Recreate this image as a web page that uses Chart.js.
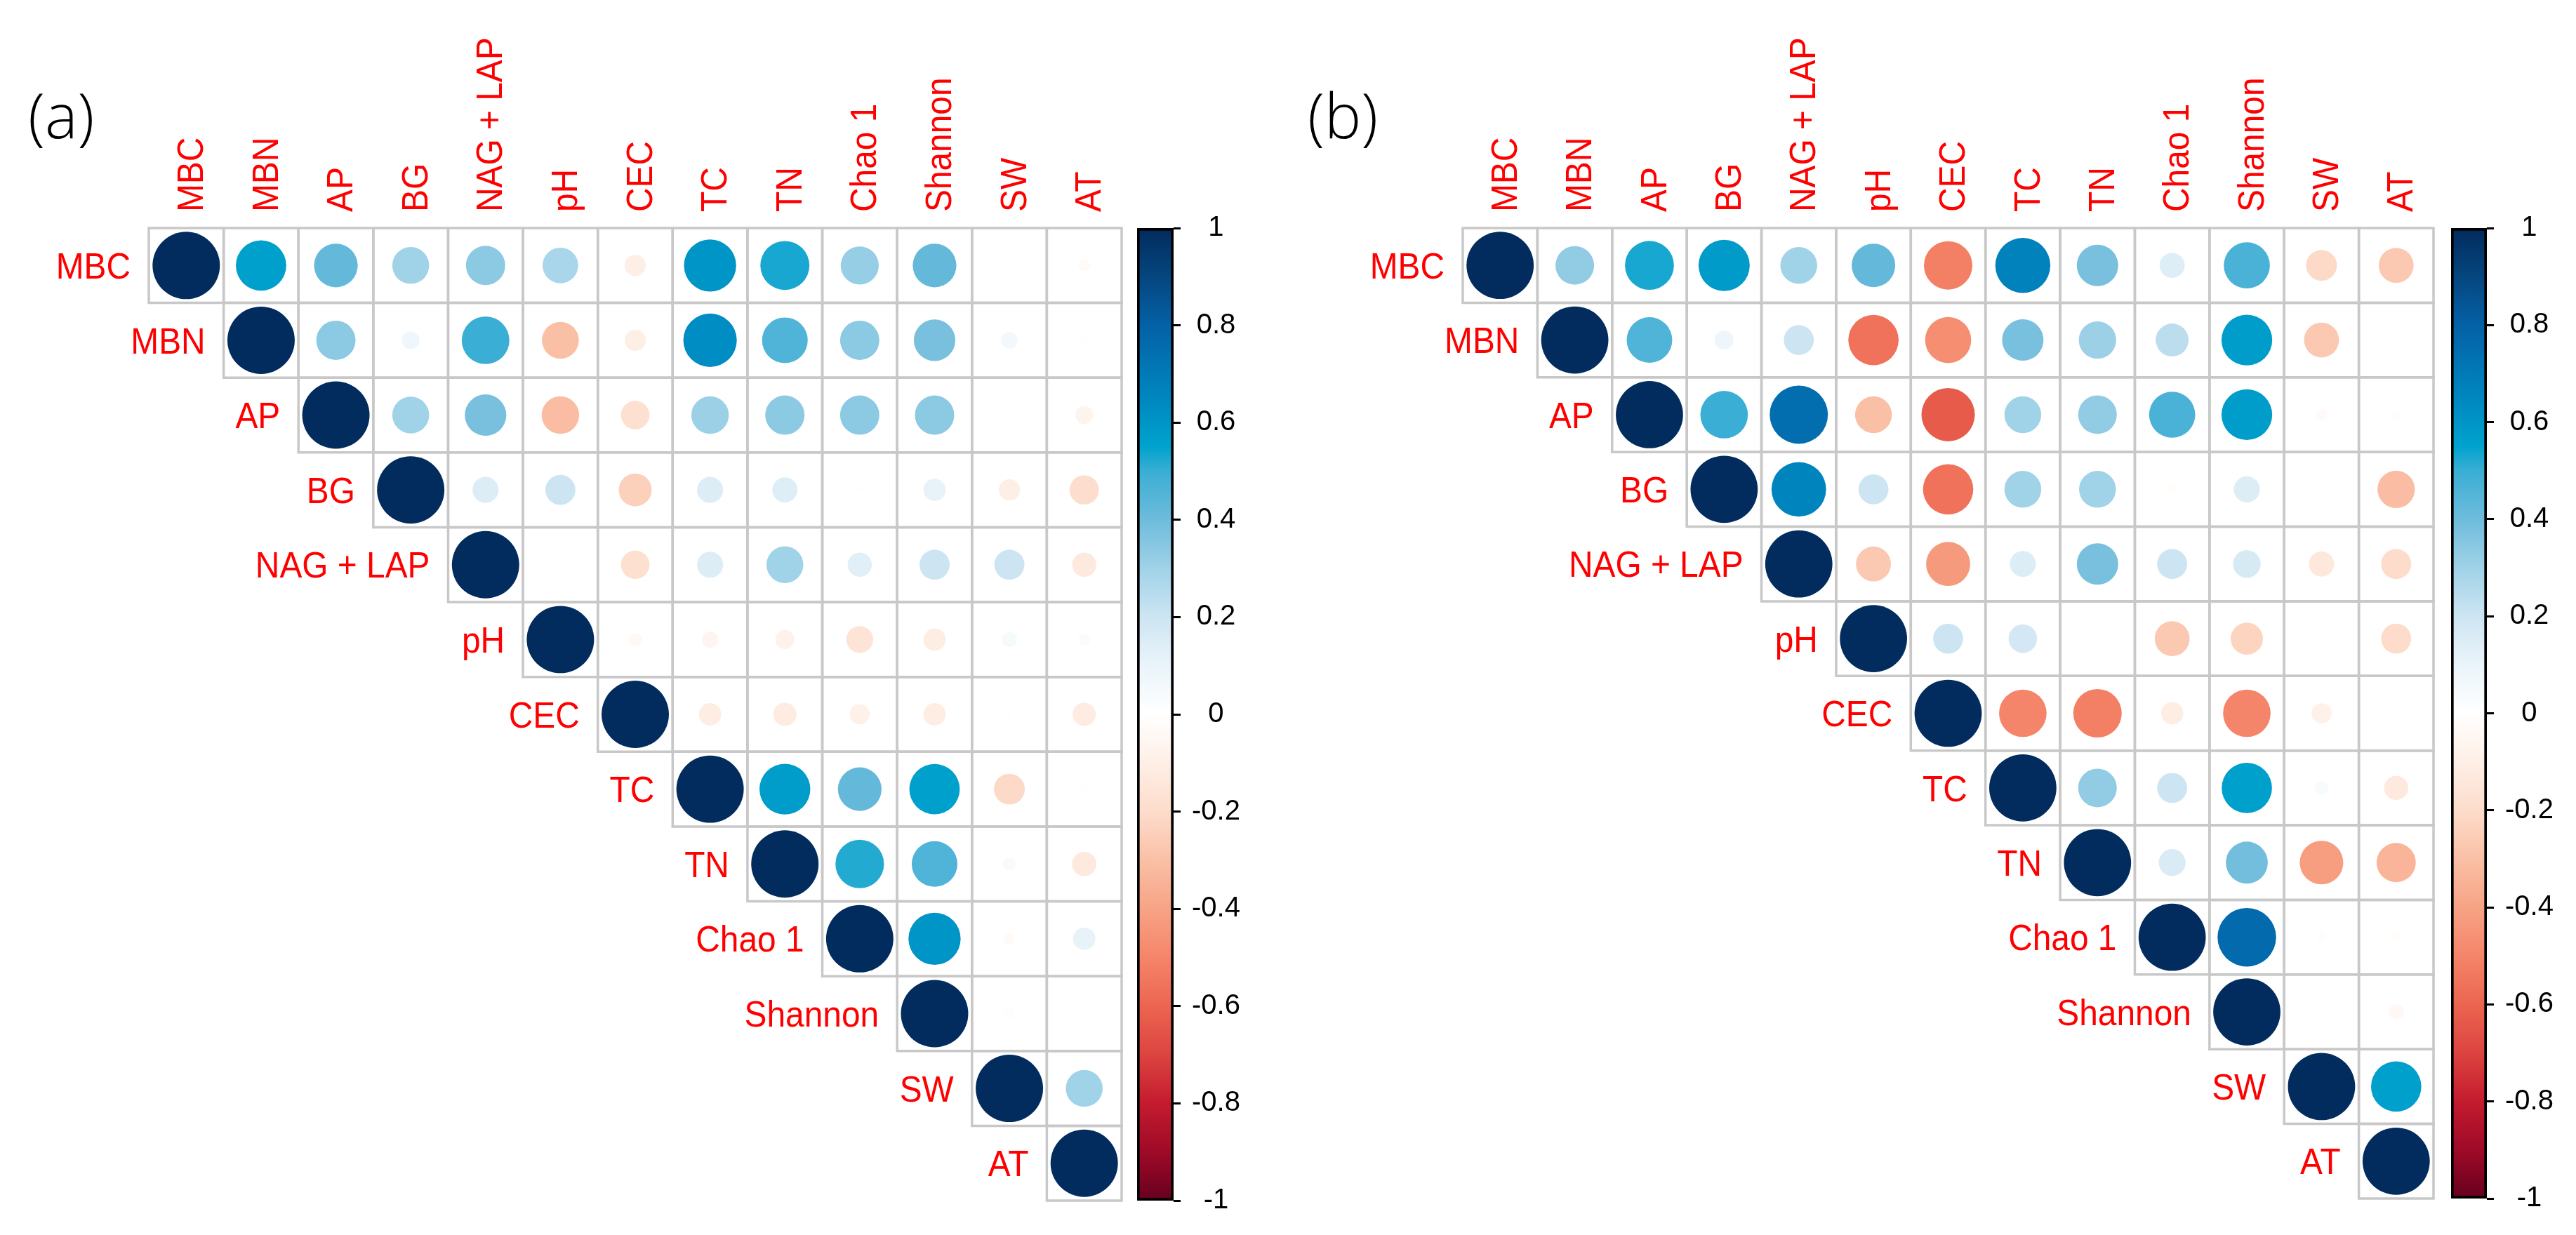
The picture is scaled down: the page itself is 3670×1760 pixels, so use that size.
<!DOCTYPE html>
<html>
<head>
<meta charset="utf-8">
<script src="https://cdn.jsdelivr.net/npm/chart.js@4.4.0/dist/chart.umd.min.js"></script>
<style>
html,body{margin:0;padding:0;background:#fff;width:3670px;height:1760px;overflow:hidden}
.box{position:absolute;top:0;height:1760px}
</style>
</head>
<body>
<div class="box" style="left:0;width:1610px"><canvas id="matA"></canvas></div>
<div class="box" style="left:1600px;width:250px"><canvas id="barA"></canvas></div>
<div class="box" style="left:1840px;width:1640px"><canvas id="matB"></canvas></div>
<div class="box" style="left:3472px;width:198px"><canvas id="barB"></canvas></div>
<script>
// ---------------- DATA ----------------
const variables = ['MBC','MBN','AP','BG','NAG + LAP','pH','CEC','TC','TN','Chao 1','Shannon','SW','AT'];

// upper triangle, each row starts at the diagonal
const corrA = [
  [1, 0.56, 0.42, 0.30, 0.34, 0.28, -0.10, 0.60, 0.53, 0.32, 0.42, -0.01, -0.03],
  [1, 0.34, 0.07, 0.50, -0.30, -0.10, 0.63, 0.46, 0.34, 0.38, 0.06, -0.01],
  [1, 0.30, 0.38, -0.31, -0.18, 0.31, 0.34, 0.34, 0.34, 0.01, -0.07],
  [1, 0.15, 0.20, -0.24, 0.15, 0.14, 0.01, 0.11, -0.10, -0.19],
  [1, 0.00, -0.18, 0.15, 0.30, 0.13, 0.20, 0.20, -0.13],
  [1, -0.04, -0.06, -0.08, -0.16, -0.11, 0.05, 0.03],
  [1, -0.11, -0.12, -0.09, -0.11, -0.01, -0.12],
  [1, 0.57, 0.42, 0.56, -0.21, 0.01],
  [1, 0.52, 0.46, 0.04, -0.13],
  [1, 0.60, -0.03, 0.11],
  [1, -0.02, 0.01],
  [1, 0.30],
  [1]
];

const corrB = [
  [1, 0.33, 0.53, 0.58, 0.30, 0.42, -0.52, 0.67, 0.38, 0.14, 0.47, -0.21, -0.27],
  [1, 0.46, 0.08, 0.20, -0.56, -0.47, 0.38, 0.31, 0.24, 0.57, -0.27, 0.00],
  [1, 0.50, 0.75, -0.30, -0.63, 0.30, 0.33, 0.47, 0.57, -0.03, 0.02],
  [1, 0.66, 0.20, -0.56, 0.30, 0.30, -0.02, 0.15, 0.01, -0.31],
  [1, -0.27, -0.43, 0.15, 0.38, 0.20, 0.17, -0.14, -0.20],
  [1, 0.20, 0.18, -0.01, -0.27, -0.23, 0.00, -0.20],
  [1, -0.50, -0.52, -0.11, -0.50, -0.09, -0.01],
  [1, 0.33, 0.20, 0.56, 0.04, -0.13],
  [1, 0.16, 0.39, -0.42, -0.34],
  [1, 0.76, -0.02, -0.02],
  [1, 0.00, -0.05],
  [1, 0.56],
  [1]
];

const colorbarTicks  = [-1, -0.8, -0.6, -0.4, -0.2, 0, 0.2, 0.4, 0.6, 0.8, 1];
const colorbarLabels = ['-1','-0.8','-0.6','-0.4','-0.2','0','0.2','0.4','0.6','0.8','1'];
const panelLabels = ['(a)', '(b)'];

// ---------------- STYLE ----------------
const colorStops = [
  [-1.0,'#67001F'],[-0.9,'#9E0A27'],[-0.8,'#C41B2E'],[-0.7,'#DC4440'],[-0.6,'#EC6550'],
  [-0.5,'#F5856A'],[-0.4,'#F7A385'],[-0.3,'#FAC0A6'],[-0.2,'#FDDCCB'],[-0.1,'#FEEFE6'],
  [0,'#FFFFFF'],[0.1,'#EAF4FA'],[0.2,'#CDE5F2'],[0.3,'#A0D2E8'],[0.4,'#6EBCDC'],
  [0.5,'#3AAED4'],[0.55,'#00A3CD'],[0.65,'#0087C0'],[0.8,'#0461A6'],[0.9,'#05467F'],[1.0,'#022B5E']
];
function hex2rgb(h){return [parseInt(h.substr(1,2),16),parseInt(h.substr(3,2),16),parseInt(h.substr(5,2),16)];}
function corrColor(v){
  v = Math.max(-1, Math.min(1, v));
  for (let k=0;k<colorStops.length-1;k++){
    const [a,ca]=colorStops[k],[b,cb]=colorStops[k+1];
    if (v>=a && v<=b){
      const t=(v-a)/(b-a), A=hex2rgb(ca), B=hex2rgb(cb);
      const c=A.map((x,i)=>Math.round(x+(B[i]-x)*t));
      return 'rgb('+c.join(',')+')';
    }
  }
  return colorStops[colorStops.length-1][1];
}
const LABEL_FONT = 52, LABEL_SQUEEZE = 0.92, LABEL_RED = '#FF0000';

function cellPx(chart){
  const s = chart.scales.x;
  return Math.abs(s.getPixelForValue(1) - s.getPixelForValue(0));
}

const labelPlugin = {
  id: 'corrLabels',
  afterDraw(chart, args, opts){
    const {ctx, scales:{x, y}} = chart;
    const n = variables.length;
    const capH = 0.716 * LABEL_FONT;
    ctx.save();
    ctx.fillStyle = LABEL_RED;
    ctx.font = LABEL_FONT + 'px "Liberation Sans", Arial, sans-serif';
    ctx.textBaseline = 'alphabetic';
    for (let i=0;i<n;i++){
      const px = x.getPixelForValue(i) - 26;
      const py = y.getPixelForValue(i + 0.5) + capH/2;
      ctx.save(); ctx.translate(px, py); ctx.scale(LABEL_SQUEEZE, 1);
      ctx.textAlign = 'right'; ctx.fillText(variables[i], 0, 0); ctx.restore();
    }
    for (let j=0;j<n;j++){
      const px = x.getPixelForValue(j + 0.5) + 5;
      const py = y.getPixelForValue(0) - 23;
      ctx.save(); ctx.translate(px, py); ctx.rotate(-Math.PI/2); ctx.scale(LABEL_SQUEEZE, 1);
      ctx.textAlign = 'left'; ctx.fillText(variables[j], 0, capH/2); ctx.restore();
    }
    ctx.fillStyle = '#000';
    ctx.font = '300 88px "Open Sans", "Noto Sans", sans-serif';
    ctx.textAlign = 'left';
    ctx.fillText(opts.text, opts.x, opts.y);
    ctx.restore();
  }
};

function makeMatrix(id, corr, pad, panel){
  const n = variables.length;
  const circles = [], cells = [];
  for (let i=0;i<n;i++){
    for (let j=i;j<n;j++){
      circles.push({x:j+0.5, y:i+0.5, v:corr[i][j-i]});
      cells.push({x:j+0.5, y:i+0.5});
    }
  }
  const rad = c => 0.45*Math.sqrt(Math.abs(c.raw.v))*cellPx(c.chart);
  new Chart(document.getElementById(id), {
    type: 'scatter',
    data: {datasets: [
      {data: circles, order: 0, clip: false, pointStyle: 'circle',
       pointRadius: rad, pointHoverRadius: rad,
       pointBackgroundColor: c => corrColor(c.raw.v), pointBorderWidth: 0, pointHoverBorderWidth: 0},
      {data: cells, order: 1, clip: false, pointStyle: 'rect',
       pointRadius: c => cellPx(c.chart)/Math.SQRT2, pointHoverRadius: c => cellPx(c.chart)/Math.SQRT2,
       pointBackgroundColor: 'rgba(0,0,0,0)', pointBorderColor: '#C8C8C8', pointBorderWidth: 3.5, pointHoverBorderWidth: 3.5}
    ]},
    options: {
      responsive: true, maintainAspectRatio: false, animation: false, events: [], devicePixelRatio: 1,
      layout: {padding: pad},
      scales: {
        x: {type: 'linear', min: 0, max: n, display: false},
        y: {type: 'linear', min: 0, max: n, reverse: true, display: false}
      },
      plugins: {legend: {display: false}, tooltip: {enabled: false}, corrLabels: panel}
    },
    plugins: [labelPlugin]
  });
}

function makeColorbar(id, pad){
  new Chart(document.getElementById(id), {
    type: 'bar',
    data: {labels: [''], datasets: [{
      data: [[-1, 1]],
      backgroundColor: c => {
        const ch = c.chart, ys = ch.scales.y;
        if (!ch.chartArea || !ys) return '#fff';
        const g = ch.ctx.createLinearGradient(0, ys.getPixelForValue(-1), 0, ys.getPixelForValue(1));
        colorStops.forEach(([v, col]) => g.addColorStop((v+1)/2, col));
        return g;
      },
      borderColor: '#000', borderWidth: 4, borderSkipped: false,
      barPercentage: 1, categoryPercentage: 1
    }]},
    options: {
      responsive: true, maintainAspectRatio: false, animation: false, events: [], devicePixelRatio: 1,
      layout: {padding: pad},
      scales: {
        x: {display: false},
        y: {
          position: 'right', min: -1, max: 1,
          afterBuildTicks: s => { s.ticks = colorbarTicks.map(v => ({value: v})); },
          afterFit: s => { s.width = 110; },
          ticks: {callback: (v, i) => colorbarLabels[i], autoSkip: false, crossAlign: 'center', padding: 16,
                  color: '#000', font: {family: '"Liberation Sans", Arial, sans-serif', size: 40}},
          grid: {drawOnChartArea: false, drawTicks: true, tickLength: 10, color: '#000', lineWidth: 3},
          border: {display: false}
        }
      },
      plugins: {legend: {display: false}, tooltip: {enabled: false}}
    }
  });
}

makeMatrix('matA', corrA, {left: 212, top: 325, right: 12, bottom: 49}, {text: panelLabels[0], x: 40, y: 197});
makeColorbar('barA', {left: 20, top: 325, right: 68, bottom: 49});
makeMatrix('matB', corrB, {left: 244, top: 325, right: 13, bottom: 52}, {text: panelLabels[1], x: 23, y: 197});
makeColorbar('barB', {left: 20, top: 325, right: 17, bottom: 52});
</script>
</body>
</html>
